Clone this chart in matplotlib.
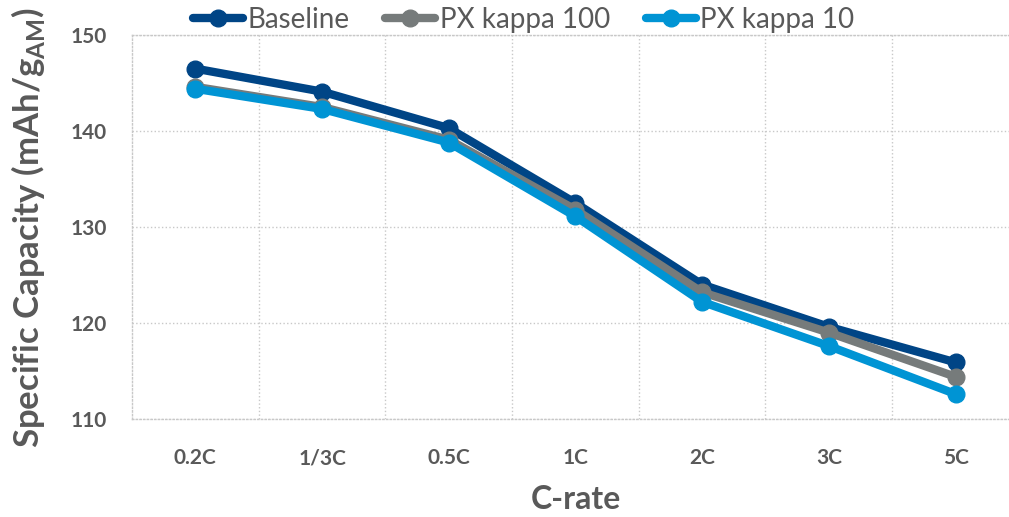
import numpy as np
import matplotlib
matplotlib.use('Agg')
import matplotlib.pyplot as plt
from matplotlib.ticker import FixedLocator

plt.rcParams['font.family'] = ['Lato', 'DejaVu Sans']
plt.rcParams['mathtext.fontset'] = 'custom'
plt.rcParams['mathtext.bf'] = 'Lato:bold'
plt.rcParams['mathtext.rm'] = 'Lato'

# capacity vs C-rate
rates = ['0.2C', '1/3C', '0.5C', '1C', '2C', '3C', '5C']
baseline = [146.5, 144.1, 140.3, 132.5, 124.0, 119.6, 115.9]
kappa100 = [144.6, 142.5, 139.1, 131.8, 123.2, 119.0, 114.4]
kappa10 = [144.4, 142.3, 138.8, 131.1, 122.2, 117.6, 112.6]

series = [('Baseline', baseline, '#004586'),
          ('PX kappa 100', kappa100, '#767B7B'),
          ('PX kappa 10', kappa10, '#0094D4')]

fig = plt.figure(figsize=(10.09, 5.17), dpi=100)
ax = fig.add_axes([0.1308, 0.1896, 0.879, 0.7427])

x = np.arange(len(rates))
for name, vals, col in series:
    ax.plot(x, vals, color=col, lw=6, marker='o', ms=12, label=name,
            solid_capstyle='round')

ax.set_xlim(-0.5, len(rates) - 0.5)
ax.set_ylim(110, 150)
ax.set_yticks([110, 120, 130, 140, 150])
ax.set_xticks(x)
ax.set_xticklabels(rates)
ax.xaxis.set_minor_locator(FixedLocator(np.arange(0.5, len(rates) - 1, 1)))

gridcol = '#c8c8c8'
ax.grid(True, axis='y', which='major', ls=':', lw=1, color=gridcol)
ax.grid(True, axis='x', which='minor', ls=':', lw=1, color=gridcol)
ax.set_axisbelow(True)
for s in ax.spines.values():
    s.set_linestyle(':')
    s.set_color(gridcol)
    s.set_linewidth(1)

ax.tick_params(which='both', length=0)
ax.tick_params(axis='x', pad=21, labelsize=15, labelcolor='#595959')
ax.tick_params(axis='y', pad=18, labelsize=15, labelcolor='#595959')
for lab in ax.get_xticklabels() + ax.get_yticklabels():
    lab.set_fontweight('bold')

ax.set_xlabel('C-rate', fontsize=23, fontweight='bold', color='#595959', labelpad=12)
ax.set_ylabel(r'Specific Capacity (mAh/g$_{\mathbf{AM}}$)', fontsize=25,
              fontweight='bold', color='#595959', labelpad=17)

leg = fig.legend(loc='upper center', bbox_to_anchor=(0.519, 1.035), ncol=3,
                 frameon=False, fontsize=20, handlelength=1.8,
                 columnspacing=1.3, handletextpad=0.15)
for t in leg.get_texts():
    t.set_color('#595959')

fig.savefig('out.png', dpi=100)
